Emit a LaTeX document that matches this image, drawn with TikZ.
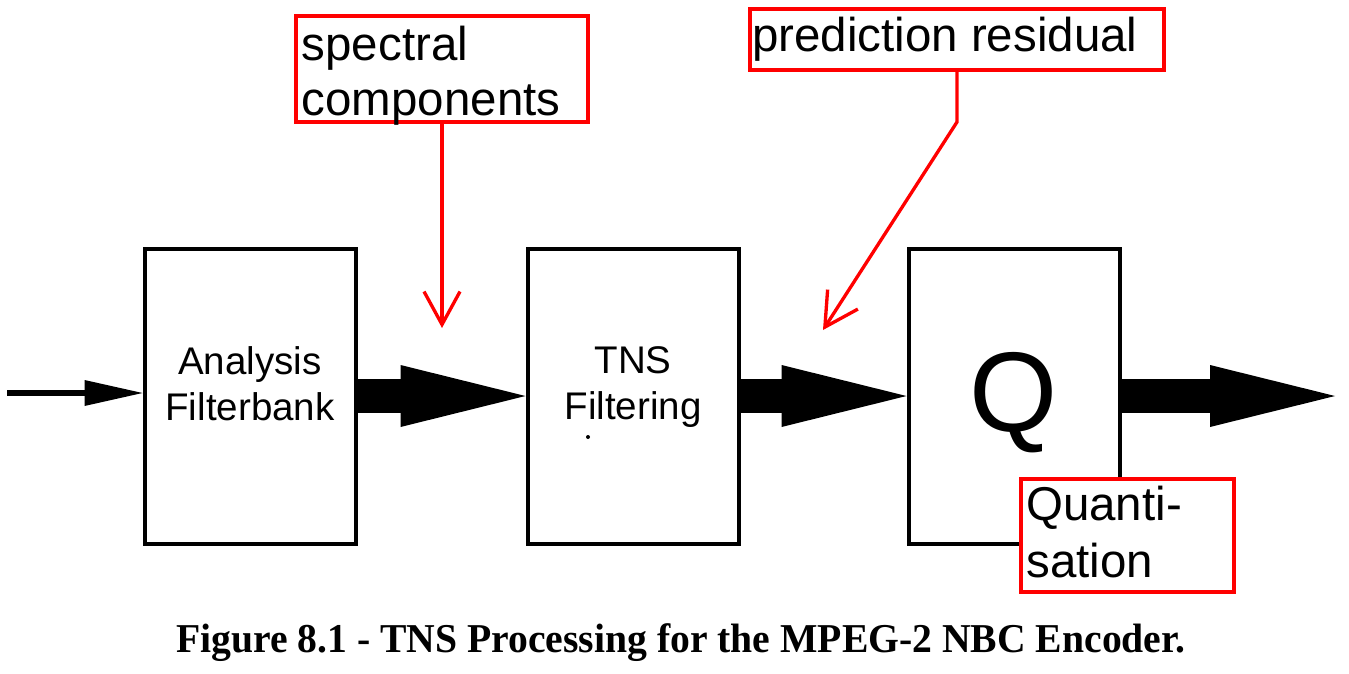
\documentclass[tikz,border=0pt]{standalone}
\usepackage{fontspec}
\usepackage{graphicx}
\setmainfont{Liberation Sans}
\newfontfamily\capfont{Liberation Serif}
\usetikzlibrary{arrows.meta}
\tikzset{
  blk/.style={draw=black, line width=3pt, minimum width=158.25pt, minimum height=221.25pt, inner sep=0pt},
  blklbl/.style={inner sep=0pt, align=center, font=\fontsize{28.9}{34.5}\selectfont},
  redbox/.style={draw=red, line width=3pt, fill=white, inner sep=0pt},
  redlbl/.style={inner sep=0pt, align=left, text=black},
  redarrow/.style={draw=red, line width=2.5pt, -{Straight Barb[length=24.75pt, width=27pt]}},
  fat/.style={line width=25.5pt, -{Triangle[length=93.75pt, width=46.5pt, line width=0pt]}},
  thinarrow/.style={line width=4.5pt, -{Triangle[length=43.5pt, width=19.5pt, line width=0pt]}},
}
\begin{document}
\begin{tikzpicture}[x=0.75pt, y=-0.75pt]
\useasboundingbox (0,0) rectangle (1349,674);
% blocks
\node[blk] (b1) at (250,396) {};
\node[blk] (b2) at (633,396) {};
\node[blk] (b3) at (1014,396) {};
\node[blklbl, anchor=north] (l1) at (250,346) {Analysis\\Filterbank};
\node[blklbl, anchor=north] (l2) at (633,346) {TNS\\Filtering};
\node[inner sep=0pt, anchor=base, font=\fontsize{85}{90}\selectfont] (q) at (1014,431) {Q};
\fill (588,437) circle[radius=1.5pt];
% connectors
\coordinate (in) at (7,393);
\draw[thinarrow] (in) -- (in -| b1.west);
\draw[fat] (b1.east) -- (b2.west);
\draw[fat] (b2.east) -- (b3.west);
\coordinate (out) at (1335,396);
\draw[fat] (b3.east) -- (out);
% red annotations
\node[redbox, minimum width=219pt, minimum height=79.5pt] (sb) at (442,69) {};
\node[redlbl, anchor=north west, font=\fontsize{35.6}{41.25}\selectfont] (st) at (301.5,26) {spectral\\components};
\node[redbox, minimum width=310.5pt, minimum height=45.75pt] (pb) at (957,39.5) {};
\node[redlbl, anchor=base west, font=\fontsize{35.6}{41.25}\selectfont] (pt) at (752,52) {prediction residual};
\node[redbox, minimum width=159.75pt, minimum height=84.75pt] (qb) at (1127.5,535.5) {};
\node[redlbl, anchor=north west, font=\fontsize{35.6}{42.75}\selectfont] (qt) at (1026,486) {Quanti-\\sation};
\coordinate (t1) at (442,328);
\draw[redarrow] (sb.south) -- (t1);
\coordinate (k2) at (957,122);
\coordinate (t2) at (823,330);
\draw[redarrow] (pb.south) -- (k2) -- (t2);
% caption
\node[inner sep=0pt, anchor=base west] (cap) at (176,652) {\scalebox{0.967}[1]{\capfont\bfseries\fontsize{30.75}{36}\selectfont Figure 8.1 - TNS Processing for the MPEG-2 NBC Encoder.}};
\end{tikzpicture}
\end{document}
